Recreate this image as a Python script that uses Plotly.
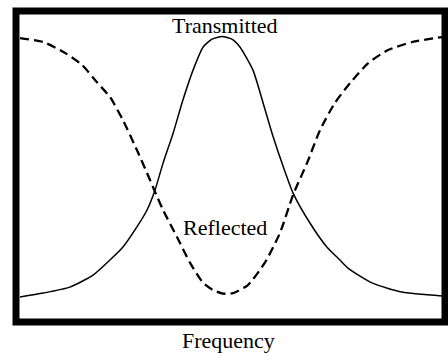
import plotly.graph_objects as go

# Frequency in arbitrary units (0..100 across the box), transmittance/reflectance 0..1
freq_t = [0, 5.5, 11.8, 17.3, 21.3, 24.4, 27.7, 30.1, 32.0, 33.9, 36.3, 38.6, 41.0, 43.4,
          45.5, 47.9, 50.2, 52.1, 55.2, 57.6, 60.0, 62.4, 64.7, 68.7, 72.7, 75.8, 77.7,
          83.4, 90.5, 100]
transmitted = [0.0, 0.015, 0.038, 0.084, 0.142, 0.192, 0.269, 0.334, 0.411, 0.514, 0.630,
               0.756, 0.871, 0.960, 0.990, 1.0, 0.990, 0.960, 0.871, 0.745, 0.614, 0.499,
               0.399, 0.284, 0.192, 0.142, 0.111, 0.054, 0.019, 0.004]

freq_r = [0, 5.5, 10.7, 14.7, 18.2, 21.3, 24.4, 27.7, 30.1, 31.8, 33.9, 37.2, 40.3, 43.4,
          45.7, 48.1, 50.5, 54.0, 58.1, 61.6, 64.7, 68.0, 71.1, 74.6, 78.2, 82.5, 87.2,
          92.9, 100]
reflected = [0.994, 0.979, 0.937, 0.891, 0.825, 0.768, 0.679, 0.564, 0.476, 0.411, 0.334,
             0.230, 0.131, 0.054, 0.027, 0.013, 0.015, 0.046, 0.134, 0.246, 0.392, 0.514,
             0.641, 0.745, 0.821, 0.898, 0.948, 0.979, 0.998]

labels = {"transmitted": "Transmitted", "reflected": "Reflected", "x": "Frequency"}

FONT = "Liberation Serif, Times New Roman, serif"

fig = go.Figure()
fig.add_trace(go.Scatter(x=freq_t, y=transmitted, mode="lines",
                         line=dict(color="black", width=1.5, shape="spline", smoothing=0.6),
                         showlegend=False, hoverinfo="skip"))
fig.add_trace(go.Scatter(x=freq_r, y=reflected, mode="lines",
                         line=dict(color="black", width=2.3, dash="9px,5px",
                                   shape="spline", smoothing=0.6),
                         showlegend=False, hoverinfo="skip"))

fig.update_layout(
    width=448, height=360,
    margin=dict(l=16, r=3, t=11, b=38),
    paper_bgcolor="white", plot_bgcolor="white",
    xaxis=dict(range=[-0.95, 100.7], visible=False, fixedrange=True),
    yaxis=dict(range=[-0.096, 1.098], visible=False, fixedrange=True),
    shapes=[dict(type="rect", xref="paper", yref="paper", x0=0, x1=1, y0=0, y1=1,
                 line=dict(color="black", width=7), fillcolor="rgba(0,0,0,0)")],
    annotations=[
        dict(text=labels["transmitted"], xref="paper", yref="paper", x=0.488, y=0.952,
             xanchor="center", yanchor="middle", showarrow=False,
             font=dict(family=FONT, size=22, color="black")),
        dict(text=labels["reflected"], xref="paper", yref="paper", x=0.487, y=0.304,
             xanchor="center", yanchor="middle", showarrow=False,
             font=dict(family=FONT, size=22, color="black")),
        dict(text=labels["x"], xref="paper", yref="paper", x=0.495, y=-0.058,
             xanchor="center", yanchor="middle", showarrow=False,
             font=dict(family=FONT, size=22, color="black")),
    ],
)

fig.write_html("out.html", config={"displayModeBar": False},
               post_script="document.body.style.margin='0';document.body.style.overflow='hidden';")
